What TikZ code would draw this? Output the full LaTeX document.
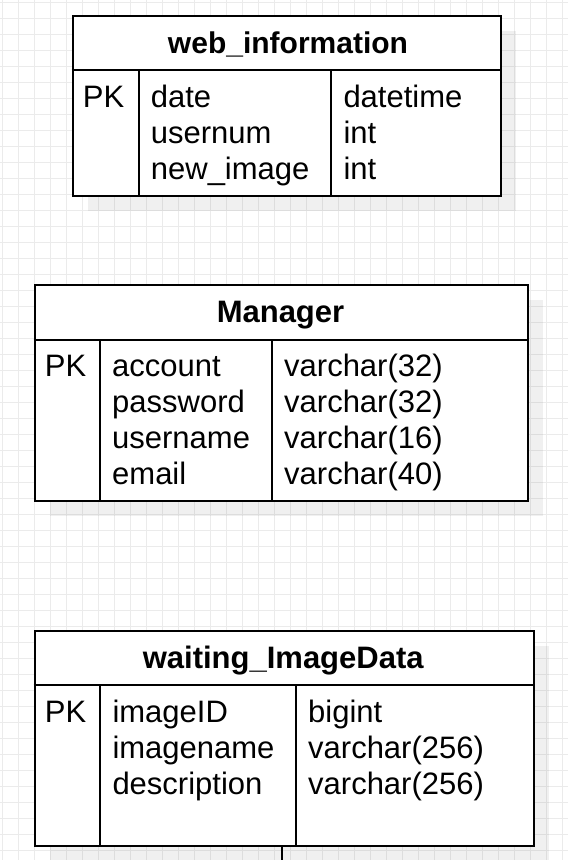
\documentclass[tikz,border=0pt]{standalone}
\usepackage{fontspec}
\setmainfont{Liberation Sans}
\definecolor{gridgray}{HTML}{EBEBEB}
\begin{document}
\begin{tikzpicture}[x=1pt,y=-1pt,
  gridline/.style={draw=gridgray, line width=1pt},
  shadowbox/.style={fill=black, fill opacity=0.06, draw=none},
  tbl/.style={draw=black, line width=2pt, fill=white, inner sep=0pt, anchor=north west},
  divider/.style={draw=black, line width=2pt},
  hdr/.style={font=\bfseries\fontsize{30}{36}\selectfont, inner sep=0pt, anchor=base},
  bighdr/.style={hdr, font=\bfseries\fontsize{31}{36}\selectfont},
  cell/.style={font=\fontsize{31}{36}\selectfont, inner sep=0pt, anchor=base west},
  link/.style={draw=black, line width=2pt}
]
\useasboundingbox (0,0) rectangle (568,860);
\begin{scope}
\clip (0,0) rectangle (568,860);
\fill[white] (0,0) rectangle (568,860);
\foreach \g in {2.7,18.7,...,570} {
  \draw[gridline] (\g,0) -- (\g,860);
}
\foreach \g in {2.7,18.7,...,862} {
  \draw[gridline] (0,\g) -- (568,\g);
}
\end{scope}

% ---------- web_information ----------
\fill[shadowbox] (87.7,31.3) rectangle (516,211);
\node[tbl, minimum width=428.3pt, minimum height=179.7pt] (wi) at (71.7,15.3) {};
\coordinate (wih) at (0,70.3);
\coordinate (wic1) at (138.7,0);
\coordinate (wic2) at (331.3,0);
\draw[divider] (wi.west |- wih) -- (wi.east |- wih);
\draw[divider] (wic1 |- wih) -- (wic1 |- wi.south);
\draw[divider] (wic2 |- wih) -- (wic2 |- wi.south);
\node[hdr] (wititle) at (288,53.3) {web\_information};
\node[cell] (wipk) at (82.7,107.3) {PK};
\node[cell] (win1) at (150.7,107.3) {date};
\node[cell] (win2) at (150.7,143.3) {usernum};
\node[cell] (win3) at (150.7,179.3) {new\_image};
\node[cell] (wit1) at (343.3,107.3) {datetime};
\node[cell] (wit2) at (343.3,143.3) {int};
\node[cell] (wit3) at (343.3,179.3) {int};

% ---------- Manager ----------
\fill[shadowbox] (49.7,300.3) rectangle (543.3,516.3);
\node[tbl, minimum width=493.6pt, minimum height=216pt] (mg) at (33.7,284.3) {};
\coordinate (mgh) at (0,339.7);
\coordinate (mgc1) at (100,0);
\coordinate (mgc2) at (272,0);
\draw[divider] (mg.west |- mgh) -- (mg.east |- mgh);
\draw[divider] (mgc1 |- mgh) -- (mgc1 |- mg.south);
\draw[divider] (mgc2 |- mgh) -- (mgc2 |- mg.south);
\node[bighdr] (mgtitle) at (280.5,322.5) {Manager};
\node[cell] (mgpk) at (44.7,376.7) {PK};
\node[cell] (mgn1) at (112,376.7) {account};
\node[cell] (mgn2) at (112,412.7) {password};
\node[cell] (mgn3) at (112,448.7) {username};
\node[cell] (mgn4) at (112,484.7) {email};
\node[cell] (mgt1) at (284,376.7) {varchar(32)};
\node[cell] (mgt2) at (284,412.7) {varchar(32)};
\node[cell] (mgt3) at (284,448.7) {varchar(16)};
\node[cell] (mgt4) at (284,484.7) {varchar(40)};

% ---------- waiting_ImageData ----------
\fill[shadowbox] (49.7,646.3) rectangle (548.7,861);
\node[tbl, minimum width=499pt, minimum height=214.7pt] (wd) at (33.7,630.3) {};
\coordinate (wdh) at (0,685);
\coordinate (wdc1) at (100.3,0);
\coordinate (wdc2) at (296,0);
\draw[divider] (wd.west |- wdh) -- (wd.east |- wdh);
\draw[divider] (wdc1 |- wdh) -- (wdc1 |- wd.south);
\draw[divider] (wdc2 |- wdh) -- (wdc2 |- wd.south);
\node[bighdr] (wdtitle) at (283.2,668.2) {waiting\_ImageData};
\node[cell] (wdpk) at (44.7,722) {PK};
\node[cell] (wdn1) at (112.3,722) {imageID};
\node[cell] (wdn2) at (112.3,758) {imagename};
\node[cell] (wdn3) at (112.3,794) {description};
\node[cell] (wdt1) at (308,722) {bigint};
\node[cell] (wdt2) at (308,758) {varchar(256)};
\node[cell] (wdt3) at (308,794) {varchar(256)};

% ---------- outgoing connector ----------
\coordinate (wdout) at (282.3,862);
\draw[link] (wdout |- wd.south) -- (wdout);
\end{tikzpicture}
\end{document}
